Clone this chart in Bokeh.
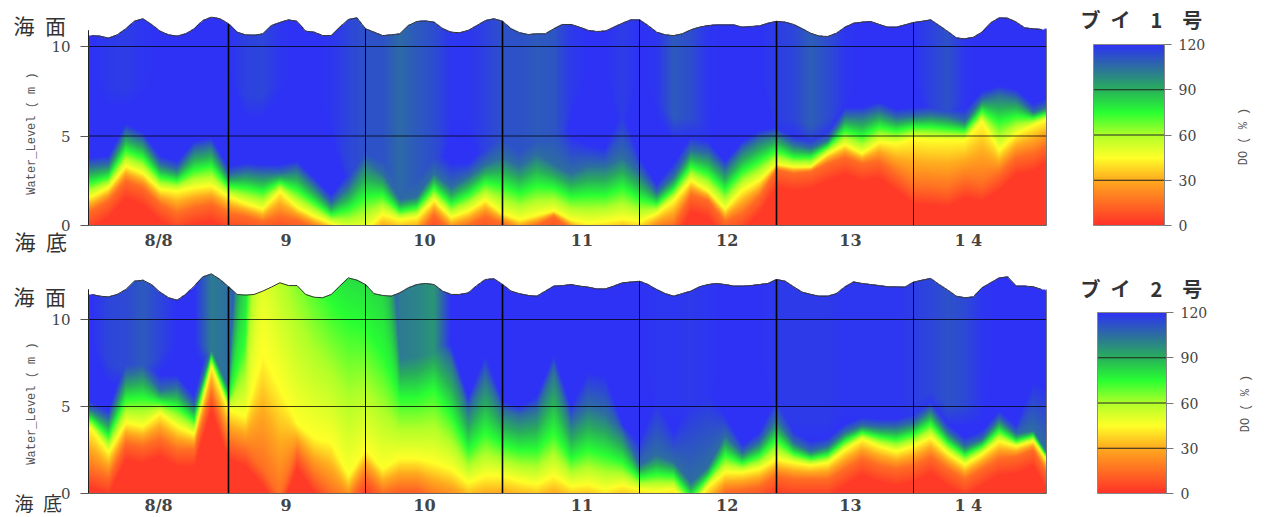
import numpy as np
from bokeh.embed import file_html
from bokeh.resources import INLINE
from bokeh.layouts import column, row
from bokeh.models import Range1d, FixedTicker, LinearColorMapper, Label
from bokeh.plotting import figure

DAY_LABELS = ["8/8", "9", "10", "11", "12", "13", "1 4"]
DAY_LABEL_POS = [-0.51, 0.42, 1.43, 2.58, 3.64, 4.54, 5.40]
DO_TICKS = [0, 30, 60, 90, 120]
DO_ANCHORS = [0, 15, 30, 45, 60, 75, 90, 105, 120]
DO_COLORS = [(255, 50, 40), (255, 110, 35), (255, 170, 30), (255, 255, 40), (175, 255, 40),
             (40, 255, 50), (40, 175, 90), (45, 110, 160), (45, 50, 245)]

# Buoy 1: height (m) of DO iso-lines, every 3 h; surface every 1.5 h
P1_SURF = [10.61,10.58,10.47,10.65,10.99,11.41,11.55,11.23,10.86,10.65,10.58,10.71,10.99,11.45,11.64,11.55,11.27,10.8,10.65,10.63,10.71,11.17,11.34,11.49,11.41,10.86,10.8,10.61,10.61,11.08,11.51,11.6,10.99,
           10.8,10.61,10.65,10.71,11.17,11.4,11.43,11.36,11.0,10.8,10.77,10.9,11.17,11.45,11.55,11.41,10.99,10.77,10.67,10.71,10.71,10.99,11.23,11.23,11.08,10.9,10.84,10.86,11.08,11.3,11.49,11.49,11.17,10.8,10.65,10.61,10.71,10.93,11.08,11.17,
           11.21,11.21,11.21,11.08,11.12,11.15,11.3,11.41,11.36,11.23,10.99,10.74,10.58,10.56,10.74,11.08,11.3,11.36,11.4,11.23,11.08,11.08,11.21,11.34,11.41,11.49,11.17,10.84,10.48,10.43,10.52,10.8,11.32,11.6,11.58,11.36,11.04,10.99,10.95,10.99]
P1_C15 = [.8,1.4,2.5,2.1,1.2,.65,1.0,1.2,.65,.5,.2,.5,.3,-.1,-.5,-1,-1,
          -.6,-.7,-.6,.6,-.3,0,.5,.1,-.3,0,.5,-.2,-.8,-.8,-.6,-.8,-.2,0,1.7,1.4,
          .2,.65,1.6,3.1,2.9,3.0,3.45,3.8,3.45,3.6,2.9,2.15,2.1,2.0,2.5,2.3,2.9,3.8,4.0,4.6]
P1_C45 = [1.6,2.1,3.3,2.9,2.0,1.9,2.1,2.2,1.6,1.2,0.9,1.9,1.0,0.5,0.1,-0.3,-0.3,
          0.6,0.3,0.45,1.4,0.45,0.8,1.4,0.65,0.3,0.55,0.8,0.3,0.1,0.2,0.35,0.2,0.65,1.4,2.5,1.9,
          0.9,1.95,2.5,3.4,3.25,3.25,4.0,4.5,4.0,4.65,4.55,4.85,4.75,4.75,4.75,5.8,4.2,5.1,5.6,6.0]
P1_C75 = [2.4,2.7,4.2,3.8,2.7,2.5,3.1,3.3,2.2,2.1,1.9,2.4,2.0,1.3,0.6,0.9,1.6,
          1.7,0.8,1.0,2.1,1.2,1.7,2.4,2.2,1.8,2.2,2.1,1.6,1.7,1.7,2.1,1.5,1.2,2.0,3.3,2.9,
          2.0,3.0,3.6,4.2,3.8,3.8,4.4,5.3,5.0,5.5,5.3,5.5,5.5,5.4,5.3,6.4,5.8,6.1,6.0,6.3]
P1_C105 = [3.3,3.4,5.2,4.75,3.4,3.1,4.2,4.4,2.8,3.0,2.9,2.9,3.1,2.2,1.2,2.1,3.6,
           2.9,1.4,1.6,2.9,2.1,2.7,3.4,3.8,3.3,4.0,3.4,2.9,3.3,3.3,3.8,2.9,1.8,2.7,4.2,4.0,
           3.1,4.2,4.8,5.1,4.5,4.3,4.75,6.1,6.1,6.4,6.0,6.1,6.2,6.1,5.8,7.0,7.3,7.1,6.3,6.7]
P1_C120 = [3.8,3.9,5.7,5.2,3.9,3.6,4.7,4.9,3.3,3.5,3.4,3.4,3.6,2.7,1.7,3.0,4.5,
           4.5,4.5,4.5,4.5,3.5,3.5,4.5,6.0,5.0,6.0,7.5,5.0,4.5,4.3,6.5,3.8,2.3,3.5,5.0,4.7,
           3.6,4.7,5.3,5.5,5.0,4.8,5.3,6.6,6.6,6.9,6.5,6.6,6.7,6.6,6.5,7.5,7.8,7.6,6.8,7.2]
P1_UPPER = [120,118,117,119,120,120,120,120,120,116,115,119,120,120,119,115,112,
            112,106,110,113,119,119,116,112,112,110,111,118,120,120,117,120,119,110,113,119,
            120,120,120,117,115,109,113,119,120,120,120,120,116,112,119,120,120,120,120,120]
P1_BASE = [9,7.7,7.7,8,9,9,9,9,9,7.2,7.2,8,9,9,6,3,3,
           2.5,1.8,1.8,3,6,6,4,3,3,3,3,7,9,9,6,9,7,6,6,5.5,
           9,9,9,6,6,5.5,6,7,9,9,9,9,6.5,6.5,7,9,9,9,9,9]

# Buoy 2
P2_SURF = [11.44,11.34,11.30,11.44,11.72,12.2,12.26,12.01,11.57,11.25,11.11,11.44,11.92,12.45,12.62,12.3,11.88,11.44,11.4,11.44,11.63,11.86,12.11,11.95,11.95,11.44,11.28,11.25,11.44,11.92,12.39,12.26,12.01,
           11.48,11.38,11.34,11.53,11.82,12.01,12.07,12.01,11.63,11.44,11.44,11.53,11.95,12.3,12.34,12.01,11.63,11.48,11.38,11.34,11.63,11.92,11.95,12.01,11.92,11.86,11.76,11.76,11.92,12.11,12.15,12.2,12.01,11.72,11.49,11.34,11.49,11.63,11.88,12.01,
           12.07,12.01,11.92,11.92,11.95,12.01,12.07,12.3,12.2,11.88,11.57,11.44,11.34,11.34,11.49,11.88,12.16,12.07,12.01,11.95,11.88,11.88,11.86,12.15,12.26,12.36,12.01,11.69,11.34,11.25,11.30,11.82,12.11,12.39,12.45,11.92,11.92,11.88,11.72,11.63]
P2_C15 = [1.3,.9,2.9,2.7,3.1,2.5,2.5,5.8,2.9,2.5,1.4,-.2,2.4,1,0,-.5,1,
          0,.3,.3,-.3,-.6,-1,-1,-1,-1,-1,-1,-1,-1,-1,-1,-1,-1,-1,-2,-1,
          .1,.2,.4,1,.8,.8,.8,1.4,2,1.6,1.4,1.6,2.1,1.4,.8,1.4,2,2.1,2.5,.8]
P2_C45 = [3.7,2.35,4.05,3.85,4.6,3.85,3.4,7.3,4.8,4.4,8,6,4,3.2,2.9,1,2.5,
          1.4,2,2,1.75,1.4,.6,1,1,.7,.5,1,.4,.5,.2,.45,.2,.1,.2,-1,.4,
          1.2,1.2,1.4,1.95,1.75,1.6,1.75,2.5,3.1,2.7,2.4,2.7,3.2,2.3,1.65,2.25,3,2.7,3,1.6]
P2_C75 = [4.25,3.3,5.4,5.5,5.25,5,4.2,7.8,5.4,9,30,20,16,13,11,10,9.5,
          8,5.5,5.5,6,4.5,2.5,3.5,2.8,2.5,2.5,3.5,2,2.5,2.2,1.8,.9,1.1,1,-.2,.9,
          2.2,1.75,2.15,3.1,2.3,2,2.2,3,3.5,3.25,3.1,3.4,4,2.9,2.2,2.7,3.6,3,3.3,1.8]
P2_C105 = [4.8,4.25,6.8,7.1,5.9,6.1,5.0,8.3,6.1,22,40,30,22,22,22,22,22,
           22,8.0,8.3,9.0,7.7,4.8,6.7,4.8,4.45,4.8,7.1,4.05,5.0,4.6,3.5,1.6,2.2,1.8,0.6,1.5,
           3.3,2.3,2.9,4.25,2.9,2.4,2.7,3.5,3.9,3.8,3.8,4.05,4.8,3.5,2.7,3.1,4.25,3.4,3.6,2.0]
P2_C120 = [5.3,4.75,7.8,8.0,6.8,6.8,5.6,9.5,7.0,23,41,31,23,23,23,23,23,
           23,9.5,9.5,10,8.5,5.5,8,5.3,5,5.6,8,5,7,6.8,4,3,5.5,3.5,5.5,6,
           4.5,2.8,3.5,5.5,3.6,3,3.2,4,4.4,4.3,4.3,4.6,5.3,4,3.2,3.6,4.75,3.9,6.5,6]
P2_UPPER = [120,115,114,110,115,120,120,102,105,120,120,120,120,120,120,120,120,
            120,102,100,96,120,120,120,120,120,120,120,120,120,120,120,120,119,119,118,119,
            120,120,120,118,118,118,118,119,119,119,119,117,115,112,114,119,120,120,120,120]
P2_BASE = [9,7.5,7,7,8,9,9,8,5.5,9,9,9,9,9,9,9,9,
           9,7,7.5,8,9,9,9,9,9,9,9,9,9,9,9,9,5,5,5,5,
           9,9,9,4,4,4,4,5,5,5,5,5,6,5,5,5,9,9,9,9]

X_COLS = -1 + np.arange(57) / 8
X_SURF = -1 + np.arange(113) / 16
X0_PX, DAY_PX = 228, 137
FONT_NUM = "DejaVu Serif"
INK = "#444444"

def ramp(n=256):
    v = np.linspace(0, 120, n)
    return ["#%02x%02x%02x" % tuple(int(round(np.interp(a, DO_ANCHORS, [c[i] for c in DO_COLORS]))) for i in range(3)) for a in v]

mapper = LinearColorMapper(palette=ramp(), low=0, high=120, nan_color="#00000000")

def field(xs, ys, surf, c15, c45, c75, c105, c120, upper, base):
    f = lambda a: np.interp(xs, X_COLS, a)
    a15, a45, a75, a105, a120, au, ab = map(f, (c15, c45, c75, c105, c120, upper, base))
    h = np.interp(xs, X_SURF, surf)
    out = np.full((len(ys), len(xs)), np.nan)
    for j in range(len(xs)):
        hs = np.array([a15[j] - 1.0, a15[j], a45[j], a75[j], a105[j], a120[j]])
        hs = np.maximum.accumulate(hs + np.arange(6) * 1e-4)
        col = np.interp(ys, hs, [2, 15, 45, 75, 105, 120])
        pl = au[j] + (120 - au[j]) * np.clip((ab[j] - ys) / 1.2, 0, 1)
        col = np.minimum(col, pl)
        col[ys > h[j]] = np.nan
        out[:, j] = col
    return out

def text(fig, txt, x, y, font, size, color="#333333", style="normal", angle=0, align="left"):
    fig.add_layout(Label(x=x, y=y, x_units="canvas", y_units="canvas", text=txt, text_font=font,
                         text_font_size=size, text_color=color, text_font_style=style,
                         angle=angle, angle_units="deg", text_align=align, text_baseline="middle"))

def panel(row_top, top_px, bot_px, ppm, height, surf, c15, c45, c75, c105, c120, upper, base,
          top_text_py, bot_text_py, bot_text_size, ylab_py, tick_standoff):
    # the frame fills the whole canvas, so that no text outside the plot area gets clipped
    xr = Range1d((0 - X0_PX) / DAY_PX, (1078 - X0_PX) / DAY_PX)
    yr = Range1d((bot_px - (row_top + height)) / ppm, (bot_px - row_top) / ppm)
    left, right = (88 - X0_PX) / DAY_PX, (1046 - X0_PX) / DAY_PX
    p = figure(width=1078, height=height, x_range=xr, y_range=yr, output_backend="svg", toolbar_location=None,
               min_border=0, min_border_left=0, min_border_right=0, min_border_top=0, min_border_bottom=0)
    p.outline_line_color = None
    p.background_fill_color = None
    p.border_fill_color = None
    p.grid.visible = False
    xs = left + (np.arange(958) + 0.5) / DAY_PX
    ys = (np.arange(2 * (bot_px - top_px)) + 0.5) / (2 * ppm)
    img = field(xs, ys, surf, c15, c45, c75, c105, c120, upper, base)
    p.image(image=[img], x=left, y=0, dw=right - left, dh=(bot_px - top_px) / ppm, color_mapper=mapper)
    inside = X_SURF <= right
    p.line(X_SURF[inside], np.array(surf)[inside], line_color="#333333", line_width=1)
    # grid lines reach only up to the water surface
    days = np.arange(6)
    p.segment(days, 0 * days, days, np.interp(days, X_SURF, surf), line_color="black",
              line_width=[1.6, 1, 1.6, 1, 1.6, 1])
    p.segment([left] * 2, [5, 10], [right] * 2, [5, 10], line_color="black", line_width=1, line_alpha=0.75)
    p.segment([left, right], [0, 0], [left, right], [surf[0] + 0.3, surf[-2]],
              line_color=["#222222", "#777777"], line_width=1)
    p.segment([left], [0], [right], [0], line_color="#666666", line_width=1)
    ax = p.xaxis[0]
    ax.fixed_location = 0
    ax.ticker = FixedTicker(ticks=DAY_LABEL_POS)
    ax.major_label_overrides = dict(zip(DAY_LABEL_POS, DAY_LABELS))
    ax.major_tick_line_color = None
    ax.major_tick_out = 0
    ax.minor_tick_line_color = None
    ax.axis_line_color = None
    ax.major_label_text_font = FONT_NUM
    ax.major_label_text_font_size = "16px"
    ax.major_label_text_font_style = "bold"
    ax.major_label_text_color = INK
    ax.major_label_standoff = tick_standoff
    ay = p.yaxis[0]
    ay.fixed_location = left
    ay.ticker = FixedTicker(ticks=[0, 5, 10])
    ay.minor_tick_line_color = None
    ay.axis_line_color = None
    ay.major_tick_line_color = "#555555"
    ay.major_tick_out = 8
    ay.major_tick_in = 0
    ay.major_label_text_font = FONT_NUM
    ay.major_label_text_font_size = "15px"
    ay.major_label_text_color = INK
    ay.major_label_standoff = 10
    ay.major_label_orientation = "horizontal"
    text(p, "海\u2002面", 13, top_text_py - row_top, "Noto Sans CJK JP", "21px")
    text(p, "海\u2002底", 14, bot_text_py - row_top, "Noto Sans CJK JP", bot_text_size)
    text(p, "Water_Level ( m )", 31, ylab_py - row_top, "Liberation Mono", "12px", "#555555", angle=90, align="center")
    return p

def colorbar(title, left_px, right_px, bar_top, bot_px, row_top, height, title_py, title_px, do_px):
    wpx = right_px - left_px
    hpx = bot_px - bar_top
    xr = Range1d((1078 - left_px) / wpx, (1264 - left_px) / wpx)
    yr = Range1d((bot_px - (row_top + height)) * 120 / hpx, (bot_px - row_top) * 120 / hpx)
    c = figure(width=186, height=height, x_range=xr, y_range=yr, output_backend="svg", toolbar_location=None,
               min_border=0, min_border_left=0, min_border_right=0, min_border_top=0, min_border_bottom=0,
               y_axis_location="right")
    c.background_fill_color = None
    c.border_fill_color = None
    c.outline_line_color = None
    c.grid.visible = False
    c.xaxis.visible = False
    c.image(image=[np.linspace(0, 120, 256).reshape(-1, 1)], x=0, y=0, dw=1, dh=120, color_mapper=mapper)
    ticks = np.array(DO_TICKS[1:-1])
    c.segment(0 * ticks, ticks, 0 * ticks + 1, ticks, line_color="#222222", line_width=1)
    c.segment([0, 1, 0, 0], [0, 0, 0, 120], [0, 1, 1, 1], [120, 120, 0, 120], line_color="#888888", line_width=1)
    ay = c.yaxis[0]
    ay.fixed_location = 1
    ay.ticker = FixedTicker(ticks=DO_TICKS)
    ay.minor_tick_line_color = None
    ay.axis_line_color = None
    ay.major_tick_line_color = "#777777"
    ay.major_tick_out = 7
    ay.major_tick_in = 0
    ay.major_label_text_font = FONT_NUM
    ay.major_label_text_font_size = "14px"
    ay.major_label_text_color = INK
    ay.major_label_standoff = 7
    ay.major_label_orientation = "horizontal"
    text(c, title, title_px - 1078, title_py - row_top, "Noto Sans CJK JP", "20px", style="bold")
    text(c, "DO ( % )", do_px - 1078, (136 if row_top < 100 else 403) - row_top, "Liberation Mono", "12px", "#555555",
         angle=90, align="center")
    return c

p1 = panel(0, 12, 225, 17.9, 262, P1_SURF, P1_C15, P1_C45, P1_C75, P1_C105, P1_C120, P1_UPPER, P1_BASE, 24, 240, "21px", 133, 5)
p2 = panel(262, 266, 493, 17.4, 254, P2_SURF, P2_C15, P2_C45, P2_C75, P2_C105, P2_C120, P2_UPPER, P2_BASE, 295, 502, "19px", 403, 2)
c1 = colorbar("ブ\u2002イ\u2002\u20021\u2002\u2002号", 1093, 1164, 44, 225, 0, 262, 19, 1080, 1243)
c2 = colorbar("ブ\u2002イ\u2002\u20022\u2002\u2002号", 1097, 1166, 312, 493, 262, 254, 288, 1080, 1245)

layout = column(row(p1, c1), row(p2, c2), spacing=0)
open("out.html", "w").write(file_html(layout, INLINE))
